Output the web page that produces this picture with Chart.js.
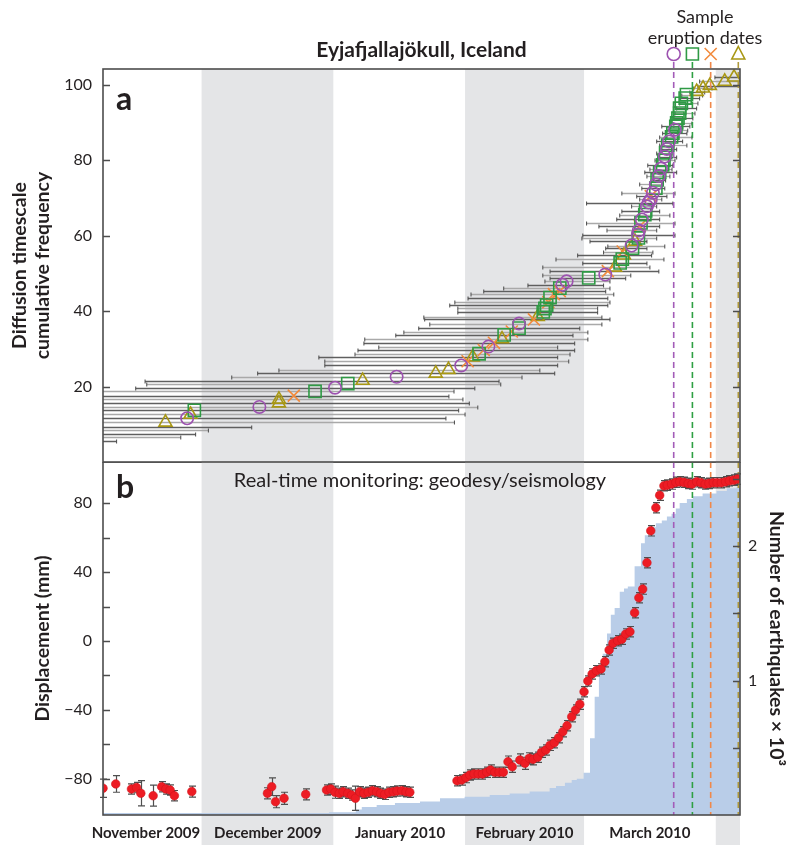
<!DOCTYPE html>
<html>
<head>
<meta charset="utf-8">
<script src="https://cdn.jsdelivr.net/npm/chart.js@4.4.0/dist/chart.umd.min.js"></script>
<style>
  body { margin: 0; background: #fff; }
  #wrap { position: relative; width: 790px; height: 845px; }
  canvas { position: absolute; left: 0; }
  #top { top: 0; }
  #bottom { top: 462px; }
</style>
</head>
<body>
<div id="wrap">
  <canvas id="top" width="790" height="463"></canvas>
  <canvas id="bottom" width="790" height="383"></canvas>
</div>
<script>
// time axis: days counted from 1 November 2009
const X_MIN = 6.8, X_MAX = 156.7;
const shadedMonths = [[30, 61], [92, 120], [151, 181]];   // Dec, Feb, Apr
const monthLabelDays = [16.9, 45.6, 76.7, 106.0, 135.5];
const monthLabels = ['November 2009', 'December 2009', 'January 2010', 'February 2010', 'March 2010'];

// eruption dates of the sampled tephra
const eruptionDays = [141.1, 145.5, 149.8, 156.3];
const eruptionTypes = ['c', 's', 'x', 't'];

// panel a: diffusion timescale results (cumulative frequency, best date, range)
const sampleFreq = [
  5.7, 6.6, 7.5, 8.4, 9.4, 10.5, 11.6, 12.6, 13.7, 14.6,
  15.6, 16.6, 17.6, 18.7, 19.7, 20.8, 21.6, 22.6, 23.5, 24.5,
  25.6, 26.7, 27.8, 28.7, 29.7, 30.6, 31.6, 32.6, 33.7, 34.6,
  35.5, 36.7, 37.8, 38.5, 39.8, 40.7, 41.6, 42.4, 43.6, 44.5,
  45.3, 46.1, 47.0, 47.9, 48.8, 49.7, 50.6, 51.6, 52.8, 53.8,
  54.8, 55.8, 56.7, 57.4, 58.5, 59.4, 60.3, 61.4, 62.5, 63.4,
  64.3, 65.6, 66.6, 67.8, 68.8, 69.6, 70.5, 71.4, 72.6, 73.6,
  74.8, 75.8, 76.8, 77.8, 78.8, 80.0, 81.0, 82.0, 83.0, 84.0,
  85.0, 86.2, 87.2, 88.1, 89.0, 89.9, 91.2, 92.5, 93.8, 95.1,
  96.5, 97.4, 98.2, 99.1, 99.8, 100.9, 102.0
];
const sampleMid = [
  null, null, null, null, null, 21.5, 26.6, 27.4, 28.3, 43.6,
  48.2, 48.2, 51.7, 56.7, 61.4, 64.4, 67.9, 75.9, 85.1, 88.1,
  91.1, 92.6, 93.8, 95.3, 96.4, 97.5, 98.8, 100.7, 101.2, 103.0,
  104.7, 104.7, 108.2, 109.1, 110.4, 110.8, 111.2, 111.6, 112.0, 112.9,
  114.3, 114.3, 114.9, 115.9, 121.1, 125.0, 125.6, 127.3, 128.5, 129.0,
  129.4, 129.1, 131.4, 131.2, 132.0, 132.8, 132.7, 132.9, 133.1, 133.4,
  133.6, 134.3, 134.5, 134.8, 135.2, 135.7, 135.7, 136.2, 136.9, 136.9,
  137.2, 137.6, 137.8, 138.1, 138.5, 138.8, 139.0, 139.2, 139.5, 139.7,
  140.0, 140.6, 140.9, 141.4, 141.6, 141.8, 142.1, 142.5, 142.5, 142.9,
  143.8, 144.1, 146.5, 148.0, 149.6, 153.1, 155.3
];
const sampleLo = [
  -20, -20, -20, -20, -20, -18, -16, -15, -14, -10,
  -8, -6, -4, 0, 14.5, 17.1, 16.7, 37.1, 43.2, 48.2,
  59.0, 59.0, 57.6, 66.1, 66.8, 71.7, 68.2, 68.4, 75.7, 77.6,
  81.1, 83.7, 82.5, 82.3, 90.3, 90.3, 88.4, 89.6, 92.7, 93.4,
  96.4, 101.1, 106.8, 110.8, 112.0, 110.3, 112.0, 110.3, 119.7, 113.4,
  118.5, 124.6, 125.1, 125.6, 121.4, 119.5, 119.7, 125.4, 123.5, 120.6,
  127.7, 128.4, 128.9, 131.2, 120.6, 133.1, 132.4, 128.9, 133.6, 133.1,
  136.2, 134.8, 134.3, 135.5, 135.0, 136.7, 137.4, 137.1, 137.8, 137.8,
  137.1, 137.8, 138.5, 139.5, 138.3, 140.7, 140.9, 141.4, 141.8, 142.5,
  142.5, 143.0, 144.9, 145.8, 146.8, 147.2, 150.8
];
const sampleHi = [
  10.0, 25.1, 28.6, 31.6, 41.8, 89.5, 87.5, 92.0, 90.5, 95.0,
  93.0, 91.5, 88.2, 89.4, 94.3, 100.4, 100.0, 105.4, 113.1, 109.6,
  113.8, 116.4, 113.8, 116.7, 117.8, 113.8, 117.8, 120.9, 117.4, 120.9,
  119.0, 124.2, 126.1, 124.2, 123.2, 123.2, 125.6, 126.1, 125.6, 127.0,
  125.1, 126.1, 124.6, 126.1, 129.8, 131.0, 137.6, 135.5, 134.8, 138.8,
  135.9, 136.2, 134.8, 139.0, 134.8, 137.1, 141.4, 137.1, 137.8, 141.4,
  137.8, 140.2, 137.8, 137.1, 140.9, 138.3, 139.5, 141.4, 139.0, 138.5,
  139.2, 140.2, 141.8, 140.7, 140.9, 141.4, 141.8, 140.7, 141.8, 144.2,
  143.2, 145.4, 144.2, 144.4, 144.9, 145.4, 145.6, 146.1, 146.5, 146.8,
  147.2, 147.9, 148.4, 150.1, 157.8, 161.4, 163.7
];
const sampleType = [
  '', '', '', '', '', 't', 'c', 't', 's', 'c',
  't', 't', 'x', 's', 'c', 's', 't', 'c', 't', 't',
  'c', 'x', 't', 's', 'x', 'c', 'x', 't', 's', 'x',
  's', 'c', 'x', 't', 's', 's', 's', 'x', 's', 'x',
  'x', 's', 'c', 'c', 's', 'c', 'x', 't', 's', 's',
  't', 'x', 's', 'c', 't', 's', 'c', 'c', 'x', 's',
  'c', 's', 's', 'c', 'c', 'c', 'x', 'c', 's', 'c',
  's', 'c', 's', 'c', 's', 's', 'c', 's', 'c', 's',
  'c', 's', 's', 'c', 's', 's', 's', 's', 's', 's',
  's', 's', 't', 't', 't', 't', 't'
];

// panel b: GPS displacement (mm) with 1-sigma errors
const dispDay = [
  6.8, 9.8, 13.5, 14.7, 15.7, 18.6, 20.6, 21.6, 22.6, 23.6, 27.7,
  45.5, 46.5, 47.4, 49.4, 54.5,
  59.4, 60.4, 61.4, 62.4, 63.3, 64.4, 65.3, 66.2, 67.2, 68.2, 69.2, 70.2, 71.2,
  72.1, 73.1, 74.1, 75.1, 76.0, 77.1, 78.1, 79.0,
  90.1, 91.2, 92.2, 93.1, 94.1, 95.1, 96.1, 97.1, 98.0, 99.0, 100.0, 101.0,
  102.1, 103.1, 104.9, 106.1, 107.1, 108.0, 109.1, 110.0, 111.0, 112.0, 113.0,
  114.0, 115.0, 116.0, 117.1, 118.0, 119.0, 120.0, 120.9, 121.9, 122.9, 124.0,
  124.9, 125.9, 126.8, 127.9, 128.9, 129.8, 130.8, 131.9, 132.9, 133.8, 134.8,
  135.7, 136.9, 137.8, 138.8, 139.6, 140.6, 141.6, 142.5, 143.5, 144.5, 145.4,
  146.5, 147.5, 148.5, 149.4, 150.4, 151.3, 152.3, 153.3, 154.2, 155.2, 156.1
];
const dispVal = [
  -85.4, -82.9, -85.8, -85.0, -88.3, -89.7, -84.5, -85.8, -86.4, -89.7, -87.3,
  -88.3, -84.5, -93.2, -91.2, -88.9,
  -86.4, -85.8, -87.7, -88.3, -87.4, -88.3, -89.3, -91.2, -87.4, -88.3, -87.7, -86.8, -87.4,
  -88.3, -88.9, -87.7, -87.4, -87.0, -86.8, -87.4, -87.7,
  -81.0, -80.6, -79.2, -77.7, -77.1, -77.1, -77.1, -76.1, -74.8, -76.1, -76.1, -76.1,
  -70.0, -72.9, -69.0, -70.9, -68.0, -68.6, -67.4, -64.5, -63.2, -60.5, -59.0,
  -56.1, -52.6, -49.1, -43.9, -40.0, -36.7, -29.4, -23.2, -19.1, -17.2, -16.2,
  -12.0, -5.2, -1.3, 0.2, 1.0, 4.1, 5.4, 16.4, 25.1, 30.1, 45.4,
  63.9, 77.3, 84.5, 90.0, 90.4, 91.0, 92.0, 92.3, 92.0, 91.4, 91.0,
  92.3, 91.8, 91.0, 91.4, 91.8, 91.8, 91.8, 92.3, 92.9, 93.3, 93.9
];
const dispErr = [
  5.3, 4.8, 3.0, 3.0, 7.3, 6.1, 3.0, 3.0, 3.0, 3.0, 3.2,
  3.2, 5.1, 3.5, 3.5, 3.2,
  3.0, 3.0, 3.5, 3.0, 3.0, 3.0, 3.0, 7.0, 3.0, 3.0, 3.0, 3.0, 3.0,
  3.0, 3.0, 3.0, 3.0, 3.0, 3.0, 3.0, 3.0,
  3.0, 3.0, 3.0, 3.0, 3.0, 3.0, 3.0, 3.0, 3.0, 3.0, 3.0, 3.0,
  3.3, 3.3, 3.5, 3.5, 3.2, 3.2, 3.0, 3.0, 3.0, 3.0, 3.0,
  3.0, 3.0, 3.0, 3.0, 3.0, 3.0, 3.0, 3.0, 3.0, 3.0, 3.0,
  3.0, 3.0, 3.0, 3.0, 3.0, 3.0, 3.0, 3.0, 3.0, 3.0, 3.0,
  3.0, 3.0, 3.0, 3.0, 3.0, 3.0, 3.0, 3.0, 3.0, 3.0, 3.0,
  3.0, 3.0, 3.0, 3.0, 3.0, 3.0, 3.0, 3.0, 3.0, 3.0, 3.0
];

// panel b: cumulative number of earthquakes (x 10^3), value holds from the given day on
const quakeDay = [
  6.8, 60.0, 66.3, 67.7, 71.2, 75.5, 81.4, 86.1, 91.9, 97.8, 102.5, 107.2, 111.9,
  113.4, 115.5, 117.1, 118.3, 119.9, 121.4, 122.5, 123.5, 124.4, 125.4, 126.3,
  127.2, 128.4, 129.4, 130.3, 131.9, 133.4, 134.3, 135.5, 136.9, 138.3, 139.5,
  140.6, 141.6, 142.5, 144.2, 145.6, 147.9, 151.2, 153.6, 155.9, 156.7
];
const quakeCount = [
  0.015, 0.015, 0.02, 0.04, 0.06, 0.075, 0.09, 0.10, 0.124, 0.135, 0.149, 0.16, 0.175,
  0.20, 0.216, 0.24, 0.26, 0.27, 0.314, 0.57, 0.88, 1.07, 1.20, 1.35,
  1.49, 1.54, 1.66, 1.685, 1.70, 1.85, 2.02, 2.08, 2.14, 2.17, 2.19,
  2.22, 2.24, 2.28, 2.32, 2.35, 2.37, 2.39, 2.41, 2.43, 2.44
];

const INK = '#231f20';
const AXIS = '#4d4d4d';
const markerStyle = {
  c: { pointStyle: 'circle',   radius: 6.2, color: '#9d52b0' },
  s: { pointStyle: 'rect',     radius: 8.6, color: '#2f9a45' },
  x: { pointStyle: 'crossRot', radius: 8.5, color: '#f28a3c' },
  t: { pointStyle: 'triangle', radius: 7.5, color: '#a89714' }
};
const dashColors = { c: '#a35cb8', s: '#2ea043', x: '#f0884a', t: '#b09a3c' };

function drawMarker(ctx, type, px, py) {
  ctx.save();
  ctx.strokeStyle = markerStyle[type].color;
  ctx.lineWidth = 1.6;
  ctx.beginPath();
  if (type === 'c') ctx.arc(px, py, 6.5, 0, Math.PI * 2);
  else if (type === 's') ctx.rect(px - 6, py - 6, 12, 12);
  else if (type === 'x') {
    ctx.moveTo(px - 6, py - 6); ctx.lineTo(px + 6, py + 6);
    ctx.moveTo(px + 6, py - 6); ctx.lineTo(px - 6, py + 6);
  } else {
    ctx.moveTo(px, py - 7.5); ctx.lineTo(px + 6.5, py + 5); ctx.lineTo(px - 6.5, py + 5); ctx.closePath();
  }
  ctx.stroke();
  ctx.restore();
}

function drawEruptionLines(chart, fromY) {
  const { ctx, chartArea: a, scales: { x } } = chart;
  ctx.save();
  ctx.lineWidth = 1.6;
  ctx.setLineDash([6, 4]);
  eruptionDays.forEach((d, i) => {
    const px = x.getPixelForValue(d);
    ctx.strokeStyle = dashColors[eruptionTypes[i]];
    ctx.beginPath();
    ctx.moveTo(px, fromY);
    ctx.lineTo(px, a.bottom);
    ctx.stroke();
  });
  ctx.restore();
}

function innerTicks(ctx, scale, values, edge, dir) {
  ctx.save();
  ctx.strokeStyle = AXIS;
  ctx.lineWidth = 1.5;
  ctx.beginPath();
  values.forEach(v => {
    const py = Math.round(scale.getPixelForValue(v)) + 0.5;
    ctx.moveTo(edge, py);
    ctx.lineTo(edge + dir * 7, py);
  });
  ctx.stroke();
  ctx.restore();
}

// fixed axis boxes so both panels share one plot width
function fixWidth(w) {
  return s => { s.width = w; s.paddingTop = 0; s.paddingBottom = 0; };
}

// month shading, drawn under everything
const shading = {
  id: 'shading',
  beforeDraw(chart, args, opts) {
    const { ctx, chartArea: a, scales: { x } } = chart;
    const bottom = opts.toCanvasBottom ? chart.height : a.bottom;
    ctx.save();
    ctx.fillStyle = '#e4e5e7';
    shadedMonths.forEach(([d0, d1]) => {
      const x0 = Math.max(a.left, x.getPixelForValue(d0));
      const x1 = Math.min(a.right, x.getPixelForValue(d1));
      if (x1 > x0) ctx.fillRect(x0, a.top, x1 - x0, bottom - a.top);
    });
    ctx.restore();
  }
};

// panel a: horizontal range bars, eruption lines, frame and labels
const panelA = {
  id: 'panelA',
  beforeDatasetsDraw(chart) {
    const { ctx, chartArea: a, scales: { x, y } } = chart;
    ctx.save();
    ctx.beginPath();
    ctx.rect(a.left, a.top, a.right - a.left, a.bottom - a.top);
    ctx.clip();
    sampleFreq.forEach((f, i) => {
      const py = Math.round(y.getPixelForValue(f)) + 0.5;
      const x0 = x.getPixelForValue(sampleLo[i]);
      const x1 = x.getPixelForValue(sampleHi[i]);
      ctx.lineWidth = 1.3;
      ctx.strokeStyle = i % 2 ? '#a9a9a9' : '#5f5f5f';
      ctx.beginPath(); ctx.moveTo(x0, py); ctx.lineTo(x1, py); ctx.stroke();
      ctx.strokeStyle = '#4a4a4a';
      ctx.lineWidth = 1;
      ctx.beginPath();
      ctx.moveTo(x0, py - 2); ctx.lineTo(x0, py + 2);
      ctx.moveTo(x1, py - 2); ctx.lineTo(x1, py + 2);
      ctx.stroke();
    });
    ctx.restore();
    drawEruptionLines(chart, 62);
  },
  afterDraw(chart) {
    const { ctx, chartArea: a, scales: { x, y } } = chart;
    ctx.save();
    ctx.strokeStyle = AXIS;
    ctx.lineWidth = 1.6;
    ctx.strokeRect(a.left, a.top, a.right - a.left, a.bottom - a.top);
    ctx.restore();
    innerTicks(ctx, y, [20, 40, 60, 80, 100], a.left, 1);
    innerTicks(ctx, y, [20, 40, 60, 80, 100], a.right, -1);

    ctx.save();
    ctx.fillStyle = INK;
    ctx.textAlign = 'center';
    ctx.textBaseline = 'middle';
    ctx.font = 'bold 21px Lato';
    ctx.fillText('Eyjafjallajökull, Iceland', (a.left + a.right) / 2, 50);
    ctx.font = '18px Lato';
    ctx.fillText('Sample', 705, 17);
    ctx.fillText('eruption dates', 705, 38);
    ctx.textAlign = 'left';
    ctx.textBaseline = 'alphabetic';
    ctx.font = 'bold 32px Lato';
    ctx.fillText('a', 116, 110);
    ctx.restore();
    eruptionDays.forEach((d, i) => drawMarker(ctx, eruptionTypes[i], x.getPixelForValue(d), 54));
  }
};

// panel b: error bars under the GPS points, earthquake area blended onto the shading
const panelB = {
  id: 'panelB',
  beforeDatasetDraw(chart, args) {
    const { ctx, chartArea: a, scales: { x, y } } = chart;
    if (args.index === 1) {
      ctx.save();
      ctx.globalCompositeOperation = 'multiply';
      return;
    }
    drawEruptionLines(chart, a.top);
    ctx.save();
    ctx.strokeStyle = '#4f4f4f';
    ctx.lineWidth = 1.2;
    ctx.beginPath();
    dispDay.forEach((d, i) => {
      const px = Math.round(x.getPixelForValue(d)) + 0.5;
      const y0 = y.getPixelForValue(dispVal[i] - dispErr[i]);
      const y1 = y.getPixelForValue(dispVal[i] + dispErr[i]);
      ctx.moveTo(px, y0); ctx.lineTo(px, y1);
      ctx.moveTo(px - 3.5, y0); ctx.lineTo(px + 3.5, y0);
      ctx.moveTo(px - 3.5, y1); ctx.lineTo(px + 3.5, y1);
    });
    ctx.stroke();
    ctx.restore();
  },
  afterDatasetDraw(chart, args) {
    if (args.index === 1) chart.ctx.restore();
  },
  afterDraw(chart) {
    const { ctx, chartArea: a, scales: { y, y2 } } = chart;
    ctx.save();
    ctx.strokeStyle = AXIS;
    ctx.lineWidth = 1.6;
    ctx.strokeRect(a.left, a.top, a.right - a.left, a.bottom - a.top);
    ctx.restore();
    innerTicks(ctx, y, [-80, -60, -40, -20, 0, 20, 40, 60, 80], a.left, 1);
    innerTicks(ctx, y2, [0.5, 1, 1.5, 2, 2.5], a.right, -1);

    ctx.save();
    ctx.fillStyle = INK;
    ctx.textAlign = 'center';
    ctx.textBaseline = 'middle';
    ctx.font = '20px Lato';
    ctx.fillText('Real-time monitoring: geodesy/seismology', 420, 19);
    ctx.textAlign = 'left';
    ctx.textBaseline = 'alphabetic';
    ctx.font = 'bold 32px Lato';
    ctx.fillText('b', 116, 36);
    ctx.restore();
  }
};

const tickFont = { family: 'Lato', size: 16 };
const titleFont = { family: 'Lato', size: 19.5, weight: 'bold', lineHeight: 1.18 };

const topSets = ['c', 's', 'x', 't'].map(k => ({
  data: sampleFreq.map((f, i) => sampleType[i] === k ? { x: sampleMid[i], y: f } : null).filter(p => p),
  showLine: false,
  pointStyle: markerStyle[k].pointStyle,
  pointRadius: markerStyle[k].radius,
  pointBorderColor: markerStyle[k].color,
  pointBackgroundColor: 'rgba(0,0,0,0)',
  pointBorderWidth: 1.6
}));

new Chart(document.getElementById('top'), {
  type: 'scatter',
  data: { datasets: topSets },
  options: {
    responsive: false,
    animation: false,
    events: [],
    layout: { autoPadding: false, padding: { left: 0, right: 50, top: 69, bottom: 1 } },
    plugins: { legend: { display: false }, tooltip: { enabled: false }, shading: { toCanvasBottom: false } },
    scales: {
      x: { type: 'linear', min: X_MIN, max: X_MAX, display: false },
      y: {
        min: 0, max: 104.2,
        afterBuildTicks: s => { s.ticks = [20, 40, 60, 80, 100].map(v => ({ value: v })); },
        afterFit: fixWidth(103),
        grid: { display: false, drawTicks: false },
        border: { display: false },
        ticks: { color: INK, font: tickFont, padding: 11 },
        title: {
          display: true, text: ['Diffusion timescale', 'cumulative frequency'],
          color: INK, font: titleFont, padding: { top: 8.5, bottom: 0 }
        }
      }
    }
  },
  plugins: [shading, panelA]
});

new Chart(document.getElementById('bottom'), {
  type: 'scatter',
  data: {
    datasets: [
      {
        data: dispDay.map((d, i) => ({ x: d, y: dispVal[i] })),
        yAxisID: 'y',
        showLine: false,
        pointRadius: 4.3,
        pointBackgroundColor: '#ed1c24',
        pointBorderColor: '#d3141b',
        pointBorderWidth: 0.6
      },
      {
        type: 'line',
        data: quakeDay.map((d, i) => ({ x: d, y: quakeCount[i] })),
        yAxisID: 'y2',
        stepped: 'after',
        fill: 'origin',
        backgroundColor: '#b9cde8',
        borderWidth: 0,
        pointRadius: 0
      }
    ]
  },
  options: {
    responsive: false,
    animation: false,
    events: [],
    layout: { autoPadding: false, padding: 0 },
    plugins: { legend: { display: false }, tooltip: { enabled: false }, shading: { toCanvasBottom: true } },
    scales: {
      x: {
        type: 'linear', min: X_MIN, max: X_MAX,
        afterBuildTicks: s => { s.ticks = monthLabelDays.map(v => ({ value: v })); },
        afterFit: s => { s.height = 30; s.paddingLeft = 0; s.paddingRight = 0; },
        grid: { display: false, drawTicks: false },
        border: { display: false },
        ticks: {
          autoSkip: false, maxRotation: 0, padding: 9, color: INK,
          font: { family: 'Lato', size: 15, weight: 'bold' },
          callback: (v, i) => monthLabels[i]
        }
      },
      y: {
        position: 'left', min: -100.9, max: 103.8,
        afterBuildTicks: s => { s.ticks = [-80, -40, 0, 40, 80].map(v => ({ value: v })); },
        afterFit: fixWidth(103),
        grid: { display: false, drawTicks: false },
        border: { display: false },
        ticks: { color: INK, font: tickFont, padding: 11, callback: v => (v < 0 ? '\u2212' + Math.abs(v) : String(v)) },
        title: {
          display: true, text: 'Displacement (mm)',
          color: INK, font: titleFont, padding: { top: 31.5, bottom: 0 }
        }
      },
      y2: {
        position: 'right', min: 0, max: 2.625,
        afterBuildTicks: s => { s.ticks = [1, 2].map(v => ({ value: v })); },
        afterFit: fixWidth(50),
        grid: { display: false, drawTicks: false },
        border: { display: false },
        ticks: { color: INK, font: tickFont, padding: 8 },
        title: {
          display: true, text: 'Number of earthquakes \u00d7 10\u00b3',
          color: INK, font: { family: 'Lato', size: 19.5, weight: 'bold', lineHeight: 1.2 }, padding: { top: 2, bottom: 0 }
        }
      }
    }
  },
  plugins: [shading, panelB]
});
</script>
</body>
</html>
